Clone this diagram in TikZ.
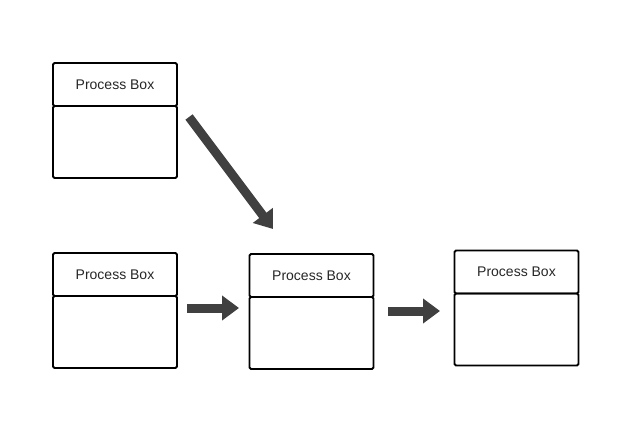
\documentclass[tikz,border=0pt]{standalone}
\usepackage{fontspec}
\setmainfont{Liberation Sans}
\usetikzlibrary{positioning, arrows.meta}

\begin{document}
\begin{tikzpicture}[x=1pt, y=-1pt,
	head/.style={draw, line width=1.8pt, outer sep=0pt, minimum width=124pt, minimum height=43pt, inner sep=0pt, font=\fontsize{14}{16}\selectfont, text=black!85, rounded corners=1.5pt},
	body/.style={draw, line width=1.8pt, outer sep=0pt, minimum width=124pt, minimum height=72pt, inner sep=0pt, rounded corners=1.5pt},
	flow/.style={draw=black!75, line width=9pt, -{Triangle[length=17pt, width=24pt]}}]
		\useasboundingbox (0,0) rectangle (642,444);
		\node[head] (P1) at (115,84.5) {Process Box}; \node[body] (P1b) [below=0pt of P1] {};
		\node[head] (P2) at (115,274.5) {Process Box}; \node[body] (P2b) [below=0pt of P2] {};
		\node[head] (P3) at (311.5,275.5) {Process Box}; \node[body] (P3b) [below=0pt of P3] {};
		\node[head] (P4) at (516.5,272) {Process Box}; \node[body] (P4b) [below=0pt of P4] {};
		\coordinate (d0) at (189,117); \coordinate (d1) at (273,229);
		\coordinate (h0) at (187,308); \coordinate (h1) at (239,308);
		\coordinate (k0) at (388,311); \coordinate (k1) at (440,311);
		\draw[flow] (d0) -- (d1);
		\draw[flow] (h0) -- (h1);
		\draw[flow] (k0) -- (k1);
	\end{tikzpicture}
\end{document}
